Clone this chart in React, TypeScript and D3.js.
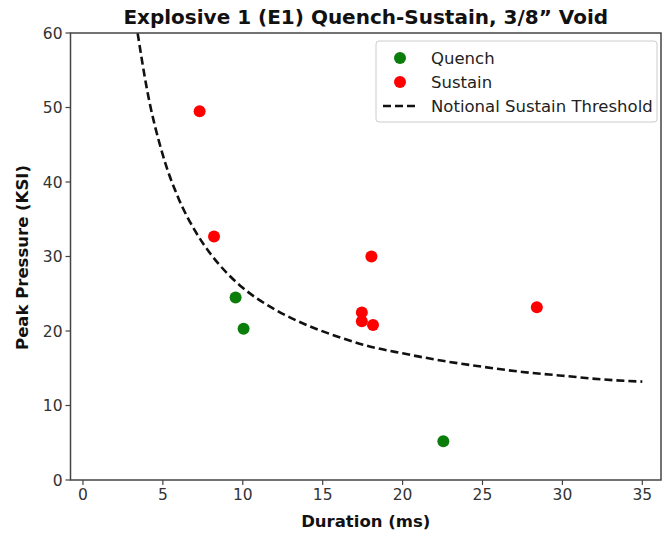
import React from "react";
import * as d3 from "d3";

const quenchDuration = [9.55, 10.05, 22.55];
const quenchPressure = [24.5, 20.3, 5.2];

const sustainDuration = [7.3, 8.2, 18.05, 17.45, 17.45, 18.15, 28.4];
const sustainPressure = [49.5, 32.7, 30.0, 22.5, 21.3, 20.8, 23.2];

const thresholdDuration = [3.42, 4, 5, 6, 7, 8, 9, 10, 12, 14, 16, 18, 20, 22.5, 25, 27.5, 30, 32.5, 35];
const thresholdPressure = [60, 52.5, 43.6, 37.7, 33.5, 30.3, 27.8, 25.8, 22.9, 20.8, 19.2, 17.9, 17.0, 16.0, 15.2, 14.5, 14.0, 13.5, 13.2];

const xTicks = [0, 5, 10, 15, 20, 25, 30, 35];
const yTicks = [0, 10, 20, 30, 40, 50, 60];

const title = "Explosive 1 (E1) Quench-Sustain, 3/8\u201D Void";
const xLabel = "Duration (ms)";
const yLabel = "Peak Pressure (KSI)";
const legendLabels = ["Quench", "Sustain", "Notional Sustain Threshold"];

export default function App() {
  const W = 662, H = 535;
  const L = 70.5, R = 661, T = 33, B = 480;
  const x = d3.scaleLinear().domain([-0.78, 36.17]).range([L, R]);
  const y = d3.scaleLinear().domain([0, 60]).range([B, T]);
  const font = "'DejaVu Sans', sans-serif";
  const axisColor = "#444";
  const textColor = "#333";

  const linePts = thresholdDuration.map((d, i) => [d, thresholdPressure[i]] as [number, number]);
  const line = d3
    .line<[number, number]>()
    .x((d) => x(d[0]))
    .y((d) => y(d[1]))
    .curve(d3.curveMonotoneX);

  const green = "#0a7d0a";
  const red = "#ff0000";

  return (
    <svg width={W} height={H} style={{ position: "absolute", left: 0, top: 0, background: "#fff" }} fontFamily={font}>
      <rect x={0} y={0} width={W} height={H} fill="#fff" />
      <defs>
        <clipPath id="plotclip">
          <rect x={L} y={T} width={R - L} height={B - T} />
        </clipPath>
      </defs>
      <text x={(L + R) / 2} y={24} textAnchor="middle" fontSize={20} fontWeight="bold" fill="#111">
        {title}
      </text>

      {/* threshold curve */}
      <path
        d={line(linePts) || ""}
        fill="none"
        stroke="#111"
        strokeWidth={2.6}
        strokeDasharray="8,4"
        clipPath="url(#plotclip)"
      />

      {/* points */}
      {quenchDuration.map((d, i) => (
        <circle key={"q" + i} cx={x(d)} cy={y(quenchPressure[i])} r={6} fill={green} />
      ))}
      {sustainDuration.map((d, i) => (
        <circle key={"s" + i} cx={x(d)} cy={y(sustainPressure[i])} r={6} fill={red} />
      ))}

      {/* spines */}
      <rect x={L} y={T} width={R - L} height={B - T} fill="none" stroke={axisColor} strokeWidth={1.5} />

      {/* x ticks */}
      {xTicks.map((t) => (
        <g key={"xt" + t}>
          <line x1={x(t)} x2={x(t)} y1={B} y2={B + 5} stroke={axisColor} strokeWidth={1.2} />
          <text x={x(t)} y={B + 20} textAnchor="middle" fontSize={15.5} fill={textColor}>
            {t}
          </text>
        </g>
      ))}
      {/* y ticks */}
      {yTicks.map((t) => (
        <g key={"yt" + t}>
          <line x1={L - 5} x2={L} y1={y(t)} y2={y(t)} stroke={axisColor} strokeWidth={1.2} />
          <text x={L - 8} y={y(t) + 5.5} textAnchor="end" fontSize={15.5} fill={textColor}>
            {t}
          </text>
        </g>
      ))}

      <text x={(L + R) / 2} y={527} textAnchor="middle" fontSize={16.5} fontWeight="bold" fill="#111">
        {xLabel}
      </text>
      <text
        transform={`translate(28, ${(T + B) / 2 + 1}) rotate(-90)`}
        textAnchor="middle"
        fontSize={16.5}
        fontWeight="bold"
        fill="#111"
      >
        {yLabel}
      </text>

      {/* legend */}
      <rect x={376} y={41} width={281} height={81} rx={3} fill="#fff" fillOpacity={0.9} stroke="#ccc" strokeWidth={1} />
      <circle cx={400} cy={58} r={6} fill={green} />
      <circle cx={400} cy={82} r={6} fill={red} />
      <line x1={383} x2={417} y1={106} y2={106} stroke="#111" strokeWidth={2.6} strokeDasharray="8,4" />
      <text x={431} y={63.5} fontSize={16.5} fill="#222">{legendLabels[0]}</text>
      <text x={431} y={87.5} fontSize={16.5} fill="#222">{legendLabels[1]}</text>
      <text x={431} y={111.5} fontSize={16.5} fill="#222">{legendLabels[2]}</text>
    </svg>
  );
}
